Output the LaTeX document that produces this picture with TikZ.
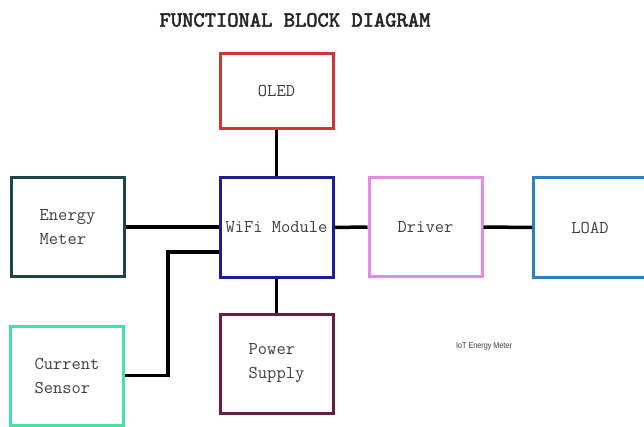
\documentclass[tikz,border=0pt]{standalone}
\usepackage{fontspec}
\setsansfont{Liberation Sans}
\newfontfamily\titlefont[FakeBold=2.5]{lmmono10-regular.otf}
\definecolor{oledred}{HTML}{D03434}
\definecolor{wifiblue}{HTML}{1C1C98}
\definecolor{meterteal}{HTML}{1E4646}
\definecolor{sensorgreen}{HTML}{44E0A4}
\definecolor{powerplum}{HTML}{6A1C44}
\definecolor{driverpink}{HTML}{E48CE4}
\definecolor{loadblue}{HTML}{2A80C2}
\definecolor{labelgray}{HTML}{3E3E3E}
\tikzset{block/.style={draw, line width=3pt, minimum width=113pt, minimum height=99pt, inner sep=0pt, align=left, text=labelgray, font=\ttfamily\fontsize{18}{24}\selectfont}}
\tikzset{wire/.style={line width=3.5pt}}

\begin{document}
\begin{tikzpicture}[x=1pt, y=-1pt]
    \useasboundingbox (0,0) rectangle (644,427);

    \node[font=\titlefont\fontsize{21.5}{21.5}\selectfont, text=black!85] (title) at (295, 20) {FUNCTIONAL BLOCK DIAGRAM};

    \foreach \name/\x/\y/\col/\txt in {meter/67.5/227/meterteal/{Energy\\Meter}, wifi/276.5/227.5/wifiblue/{WiFi Module}, sensor/67/375.5/sensorgreen/{Current\\Sensor}, power/276.5/363.5/powerplum/{Power\\Supply}, driver/425.5/227/driverpink/{Driver}, load/590/227.5/loadblue/{LOAD}}
    {
        \node[block, draw=\col] (\name) at (\x, \y) {\txt};
    }
    \node[block, draw=oledred, minimum height=75pt] (oled) at (276.5, 91.5) {OLED};

    \draw[wire] (meter.east) -- (wifi.west |- meter.east);
    \draw[wire] (sensor.east) -- ++(43,0) |- ([yshift=-24.5pt]wifi.west);
    \draw[wire] (oled.south) -- (wifi.north);
    \draw[wire] (wifi.south) -- (power.north);
    \draw[wire] (wifi.east) -- (driver.west);
    \draw[wire] (driver.east) -- (load.west);

    \node[font=\sffamily\fontsize{8.5}{8.5}\selectfont, text=labelgray, xscale=0.85] (caption) at (484, 346) {IoT Energy Meter};
\end{tikzpicture}
\end{document}
